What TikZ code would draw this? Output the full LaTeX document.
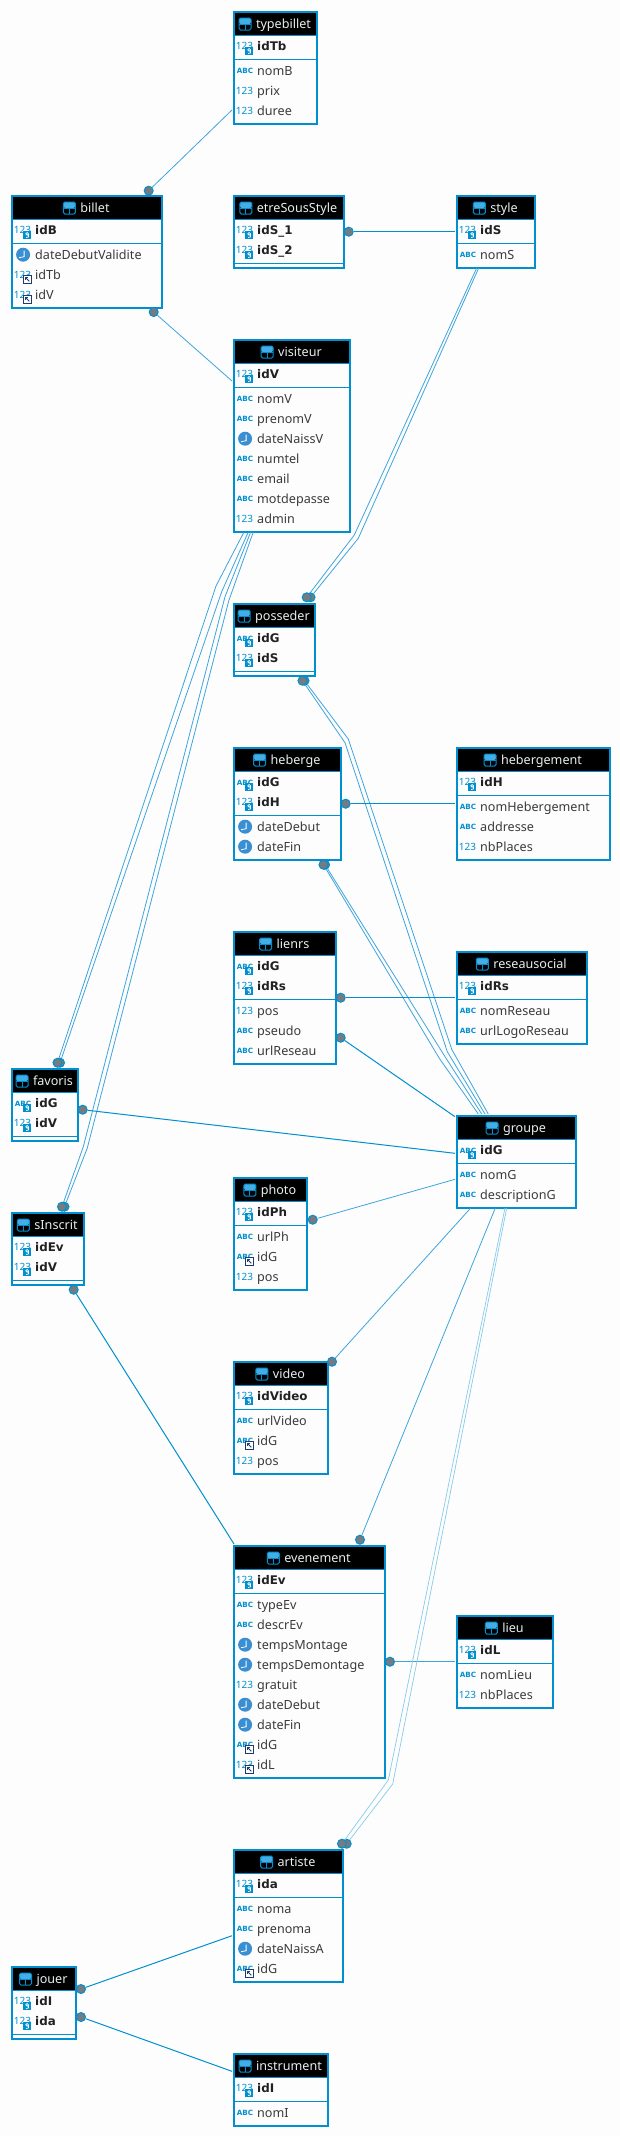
\documentclass[tikz,border=0pt]{standalone}
\usepackage{fontspec}
\setmainfont{Noto Sans}[BoldFont=DejaVu Sans Bold]
\definecolor{paper}{HTML}{FDFDFD}
\definecolor{tblblue}{HTML}{0090D0}
\definecolor{softblue}{HTML}{3DA5DC}
\definecolor{paleblue}{HTML}{86CBEA}
\definecolor{lightcell}{HTML}{45ADE6}
\definecolor{clockblue}{HTML}{3A8FD2}
\definecolor{fknavy}{HTML}{1F3A6E}
\definecolor{jointgray}{HTML}{757B80}
\definecolor{bodytext}{HTML}{3A3A3A}
\definecolor{keytext}{HTML}{222222}
\definecolor{headtext}{HTML}{E8EEEE}

\begin{document}
\begin{tikzpicture}[
  x=1pt, y=-1pt,
  every node/.style={inner sep=0pt},
  % tables: the argument is the depth of the rule under the key columns
  tbl/.style={rectangle, anchor=north west, draw=tblblue, line width=2pt, fill=paper,
    path picture={
      \fill[black] (path picture bounding box.north west) rectangle ([yshift=-23.3pt]path picture bounding box.north east);
      \draw[tblblue, line width=1pt] ([yshift=-23.8pt]path picture bounding box.north west) -- ([yshift=-23.8pt]path picture bounding box.north east);
      \draw[tblblue, line width=1pt] ([yshift=-#1pt]path picture bounding box.north west) -- ([yshift=-#1pt]path picture bounding box.north east);}},
  head/.style={text=headtext, font=\fontsize{12.6}{14}\selectfont, text height=8.6pt, text depth=0pt,
    label={[gridtag]left:{}}},
  % the little icons sit on the rows as labels
  gridtag/.style={rectangle, rounded corners=1.5pt, minimum width=12pt, minimum height=12pt, draw=tblblue, line width=1pt, xshift=-4.3pt,
    path picture={
      \fill[lightcell] (path picture bounding box.north west) rectangle (path picture bounding box.east);
      \draw[tblblue, line width=1pt] (path picture bounding box.west) -- (path picture bounding box.east);
      \draw[tblblue, line width=1pt] (path picture bounding box.center) -- (path picture bounding box.south);}},
  numtag/.style={text=tblblue, font=\fontsize{10}{10}\selectfont, text height=7.2pt, text depth=0pt, xshift=-3.7pt},
  abctag/.style={text=tblblue, font=\fontsize{7.2}{10}\selectfont\bfseries, text height=6pt, text depth=0pt, xshift=-3.7pt},
  clocktag/.style={circle, fill=clockblue, minimum size=14pt, xshift=-4.7pt,
    path picture={\draw[white, line width=0.8pt] (path picture bounding box.center) ++(1,-4) -- ++(0,6) -- ++(-5,1);}},
  keytag/.style={rectangle, fill=tblblue, minimum size=8pt, xshift=-3.7pt, yshift=-4.6pt,
    path picture={\draw[white, line width=0.7pt] (path picture bounding box.center) ++(0,-1) circle (1.4);
      \draw[white, line width=0.7pt] (path picture bounding box.center) ++(1.4,-1) -- ++(0,3) -- ++(-2.4,0.6);}},
  fktag/.style={rectangle, fill=white, draw=fknavy, line width=0.8pt, minimum size=7.2pt, xshift=-3.7pt, yshift=-4.6pt,
    path picture={\draw[fknavy, line width=0.8pt] (path picture bounding box.center) ++(2,2) -- ++(-3.4,-3.4);
      \draw[fknavy, line width=0.8pt] (path picture bounding box.center) ++(1,-2) -- ++(-2.6,0) -- ++(0,2.6);}},
  % rows of a table
  field/.style={anchor=west, text=bodytext, font=\fontsize{12.6}{14}\selectfont, text height=8.6pt, text depth=0pt},
  num/.style={field, label={[numtag]left:123}},
  abc/.style={field, label={[abctag]left:ABC}},
  clock/.style={field, label={[clocktag]left:{}}},
  numkey/.style={num, text=keytext, font=\fontsize{11.9}{14}\selectfont\bfseries, label={[keytag]left:{}}},
  abckey/.style={abc, text=keytext, font=\fontsize{11.9}{14}\selectfont\bfseries, label={[keytag]left:{}}},
  numfk/.style={num, label={[fktag]left:{}}},
  abcfk/.style={abc, label={[fktag]left:{}}},
  % connectors and their round ends
  joint/.style={circle, fill=jointgray, draw=tblblue, line width=1pt, minimum size=9pt},
  link/.style={draw=tblblue, line width=1pt},
  softlink/.style={draw=softblue, line width=0.8pt},
  palelink/.style={draw=paleblue, line width=0.7pt}]

  \fill[paper, use as bounding box] (0,0) rectangle (620,2136);

  % typebillet
  \node[tbl=47.3, minimum width=83pt, minimum height=112pt] (typebillet) at (233,11) {};
  \node[head] (typebilletHead) at (283.5,24) {typebillet};
  \node[numkey] (typebilletIdTb) at (257,46.3) {idTb};
  \node[abc] (typebilletNomB) at (257,70.7) {nomB};
  \node[num] (typebilletPrix) at (257,90.7) {prix};
  \node[num] (typebilletDuree) at (257,110.7) {duree};

  % billet
  \node[tbl=47.3, minimum width=150pt, minimum height=111.5pt] (billet) at (11,195) {};
  \node[head] (billetHead) at (95,208) {billet};
  \node[numkey] (billetIdB) at (35,230.3) {idB};
  \node[clock] (billetDate) at (35,254.7) {dateDebutValidite};
  \node[numfk] (billetIdTb) at (35,274.7) {idTb};
  \node[numfk] (billetIdV) at (35,294.7) {idV};

  % etreSousStyle
  \node[tbl=67.3, minimum width=110pt, minimum height=72pt] (etreSousStyle) at (233,195) {};
  \node[head] (etreSousStyleHead) at (297,208) {etreSousStyle};
  \node[numkey] (etreIdS1) at (257,230.3) {idS\_1};
  \node[numkey] (etreIdS2) at (257,250.3) {idS\_2};

  % style
  \node[tbl=47.3, minimum width=78pt, minimum height=72pt] (style) at (456,195) {};
  \node[head] (styleHead) at (504,208) {style};
  \node[numkey] (styleIdS) at (480,230.3) {idS};
  \node[abc] (styleNomS) at (480,254.7) {nomS};

  % visiteur
  \node[tbl=47.3, minimum width=116pt, minimum height=192pt] (visiteur) at (233,339) {};
  \node[head] (visiteurHead) at (300,352) {visiteur};
  \node[numkey] (visiteurIdV) at (257,374.3) {idV};
  \node[abc] (visiteurNomV) at (257,398.7) {nomV};
  \node[abc] (visiteurPrenomV) at (257,418.7) {prenomV};
  \node[clock] (visiteurDate) at (257,438.7) {dateNaissV};
  \node[abc] (visiteurNumtel) at (257,458.7) {numtel};
  \node[abc] (visiteurEmail) at (257,478.7) {email};
  \node[abc] (visiteurMotdepasse) at (257,498.7) {motdepasse};
  \node[num] (visiteurAdmin) at (257,518.7) {admin};

  % posseder
  \node[tbl=67.3, minimum width=81pt, minimum height=72pt] (posseder) at (233,603) {};
  \node[head] (possederHead) at (282.5,616) {posseder};
  \node[abckey] (possederIdG) at (257,638.3) {idG};
  \node[numkey] (possederIdS) at (257,658.3) {idS};

  % heberge
  \node[tbl=67.3, minimum width=107pt, minimum height=112pt] (heberge) at (233,747) {};
  \node[head] (hebergeHead) at (295.5,760) {heberge};
  \node[abckey] (hebergeIdG) at (257,782.3) {idG};
  \node[numkey] (hebergeIdH) at (257,802.3) {idH};
  \node[clock] (hebergeDebut) at (257,826.7) {dateDebut};
  \node[clock] (hebergeFin) at (257,846.7) {dateFin};

  % hebergement
  \node[tbl=47.3, minimum width=153pt, minimum height=112pt] (hebergement) at (456,747) {};
  \node[head] (hebergementHead) at (541.5,760) {hebergement};
  \node[numkey] (hebergementIdH) at (480,782.3) {idH};
  \node[abc] (hebergementNom) at (480,806.7) {nomHebergement};
  \node[abc] (hebergementAddresse) at (480,826.7) {addresse};
  \node[num] (hebergementPlaces) at (480,846.7) {nbPlaces};

  % lienrs
  \node[tbl=67.3, minimum width=102pt, minimum height=132pt] (lienrs) at (233,931) {};
  \node[head] (lienrsHead) at (293,944) {lienrs};
  \node[abckey] (lienrsIdG) at (257,966.3) {idG};
  \node[numkey] (lienrsIdRs) at (257,986.3) {idRs};
  \node[num] (lienrsPos) at (257,1010.7) {pos};
  \node[abc] (lienrsPseudo) at (257,1030.7) {pseudo};
  \node[abc] (lienrsUrl) at (257,1050.7) {urlReseau};

  % reseausocial
  \node[tbl=47.3, minimum width=130pt, minimum height=92pt] (reseausocial) at (456,951) {};
  \node[head] (reseausocialHead) at (530,964) {reseausocial};
  \node[numkey] (reseausocialIdRs) at (480,986.3) {idRs};
  \node[abc] (reseausocialNom) at (480,1010.7) {nomReseau};
  \node[abc] (reseausocialLogo) at (480,1030.7) {urlLogoReseau};

  % groupe
  \node[tbl=47.3, minimum width=119pt, minimum height=92pt] (groupe) at (456,1115) {};
  \node[head] (groupeHead) at (524.5,1128) {groupe};
  \node[abckey] (groupeIdG) at (480,1150.3) {idG};
  \node[abc] (groupeNomG) at (480,1174.7) {nomG};
  \node[abc] (groupeDescription) at (480,1194.7) {descriptionG};

  % favoris
  \node[tbl=67.3, minimum width=66pt, minimum height=72pt] (favoris) at (11,1068) {};
  \node[head] (favorisHead) at (53,1081) {favoris};
  \node[abckey] (favorisIdG) at (35,1103.3) {idG};
  \node[numkey] (favorisIdV) at (35,1123.3) {idV};

  % sInscrit
  \node[tbl=67.3, minimum width=72pt, minimum height=72pt] (sInscrit) at (11,1212) {};
  \node[head] (sInscritHead) at (56,1225) {sInscrit};
  \node[numkey] (sInscritIdEv) at (35,1247.3) {idEv};
  \node[numkey] (sInscritIdV) at (35,1267.3) {idV};

  % photo
  \node[tbl=47.3, minimum width=73pt, minimum height=112pt] (photo) at (233,1177) {};
  \node[head] (photoHead) at (278.5,1190) {photo};
  \node[numkey] (photoIdPh) at (257,1212.3) {idPh};
  \node[abc] (photoUrl) at (257,1236.7) {urlPh};
  \node[abcfk] (photoIdG) at (257,1256.7) {idG};
  \node[num] (photoPos) at (257,1276.7) {pos};

  % video
  \node[tbl=47.3, minimum width=94pt, minimum height=112pt] (video) at (233,1361) {};
  \node[head] (videoHead) at (289,1374) {video};
  \node[numkey] (videoIdVideo) at (257,1396.3) {idVideo};
  \node[abc] (videoUrl) at (257,1420.7) {urlVideo};
  \node[abcfk] (videoIdG) at (257,1440.7) {idG};
  \node[num] (videoPos) at (257,1460.7) {pos};

  % evenement
  \node[tbl=47.3, minimum width=151pt, minimum height=232pt] (evenement) at (233,1545) {};
  \node[head] (evenementHead) at (317.5,1558) {evenement};
  \node[numkey] (evenementIdEv) at (257,1580.3) {idEv};
  \node[abc] (evenementType) at (257,1604.7) {typeEv};
  \node[abc] (evenementDescr) at (257,1624.7) {descrEv};
  \node[clock] (evenementMontage) at (257,1644.7) {tempsMontage};
  \node[clock] (evenementDemontage) at (257,1664.7) {tempsDemontage};
  \node[num] (evenementGratuit) at (257,1684.7) {gratuit};
  \node[clock] (evenementDebut) at (257,1704.7) {dateDebut};
  \node[clock] (evenementFin) at (257,1724.7) {dateFin};
  \node[abcfk] (evenementIdG) at (257,1744.7) {idG};
  \node[numfk] (evenementIdL) at (257,1764.7) {idL};

  % lieu
  \node[tbl=47.3, minimum width=96pt, minimum height=92pt] (lieu) at (456,1615) {};
  \node[head] (lieuHead) at (513,1628) {lieu};
  \node[numkey] (lieuIdL) at (480,1650.3) {idL};
  \node[abc] (lieuNom) at (480,1674.7) {nomLieu};
  \node[num] (lieuPlaces) at (480,1694.7) {nbPlaces};

  % artiste
  \node[tbl=47.3, minimum width=109pt, minimum height=132pt] (artiste) at (233,1849) {};
  \node[head] (artisteHead) at (296.5,1862) {artiste};
  \node[numkey] (artisteIda) at (257,1884.3) {ida};
  \node[abc] (artisteNoma) at (257,1908.7) {noma};
  \node[abc] (artistePrenoma) at (257,1928.7) {prenoma};
  \node[clock] (artisteDate) at (257,1948.7) {dateNaissA};
  \node[abcfk] (artisteIdG) at (257,1968.7) {idG};

  % jouer
  \node[tbl=67.3, minimum width=64pt, minimum height=72pt] (jouer) at (11,1966) {};
  \node[head] (jouerHead) at (52,1979) {jouer};
  \node[numkey] (jouerIdI) at (35,2001.3) {idI};
  \node[numkey] (jouerIda) at (35,2021.3) {ida};

  % instrument
  \node[tbl=47.3, minimum width=94pt, minimum height=72pt] (instrument) at (233,2053) {};
  \node[head] (instrumentHead) at (289,2066) {instrument};
  \node[numkey] (instrumentIdI) at (257,2088.3) {idI};
  \node[abc] (instrumentNomI) at (257,2112.7) {nomI};

  % round ends
  \node[joint] (billetUp) at (148.7,190.7) {};
  \node[joint] (billetDown) at (153.7,312) {};
  \node[joint] (etreSide) at (348.7,231.7) {};
  \node[joint] (possUpB) at (310.5,597.3) {};
  \node[joint] (possUpA) at (306.7,597.3) {};
  \node[joint] (possDownB) at (304.5,680.7) {};
  \node[joint] (possDownA) at (302.5,680.7) {};
  \node[joint] (hebergeDownB) at (325,864.7) {};
  \node[joint] (hebergeDownA) at (323.5,864.7) {};
  \node[joint] (hebergeSide) at (345.7,803.7) {};
  \node[joint] (lienrsSideA) at (340.7,997.7) {};
  \node[joint] (lienrsSideB) at (340.7,1037.7) {};
  \node[joint] (favorisUpB) at (60,1062.7) {};
  \node[joint] (favorisUpA) at (57.5,1062.7) {};
  \node[joint] (favorisSide) at (82.7,1109.7) {};
  \node[joint] (sInscritUpB) at (64.5,1206.7) {};
  \node[joint] (sInscritUpA) at (62,1206.7) {};
  \node[joint] (sInscritDown) at (73.7,1289.7) {};
  \node[joint] (photoSide) at (312.7,1219.7) {};
  \node[joint] (videoUp) at (332,1361.7) {};
  \node[joint] (evenementUp) at (360,1539.7) {};
  \node[joint] (evenementSide) at (390,1661.7) {};
  \node[joint] (artisteUpB) at (346.7,1843.7) {};
  \node[joint] (artisteUpA) at (342,1843.7) {};
  \node[joint] (jouerSideA) at (81,1989) {};
  \node[joint] (jouerSideB) at (81,2017) {};

  % free ends on the tables
  \coordinate (typebilletIn) at (232,110);
  \coordinate (visiteurIn) at (232,381);
  \coordinate (styleIn) at (455,231.7);
  \coordinate (styleOutA) at (476.7,268);
  \coordinate (styleOutB) at (478.7,268);
  \coordinate (visiteurOutA) at (244,532);
  \coordinate (visiteurOutB) at (248.3,532);
  \coordinate (visiteurOutC) at (250.7,532);
  \coordinate (visiteurOutD) at (253.3,532);
  \coordinate (hebergementIn) at (455,803.7);
  \coordinate (reseausocialIn) at (455,997.7);
  \coordinate (groupeTopA) at (478.3,1114);
  \coordinate (groupeTopB) at (481.7,1114);
  \coordinate (groupeTopC) at (485,1114);
  \coordinate (groupeTopD) at (488.3,1114);
  \coordinate (groupeCorner) at (455,1116.7);
  \coordinate (groupeSideA) at (455,1153.3);
  \coordinate (groupeSideB) at (455,1179.3);
  \coordinate (groupeDownA) at (470.7,1208);
  \coordinate (groupeDownB) at (495.3,1208);
  \coordinate (groupeDownC) at (505,1208);
  \coordinate (groupeDownD) at (506.7,1208);
  \coordinate (evenementCorner) at (234,1544);
  \coordinate (lieuIn) at (455,1661.7);
  \coordinate (artisteIn) at (232,1935.7);
  \coordinate (instrumentIn) at (232,2071.3);

  % connectors
  \draw[softlink] (billetUp) -- (typebilletIn);
  \draw[softlink] (billetDown) -- (visiteurIn);
  \draw[link] (etreSide) -- (styleIn);
  \draw[softlink] (possUpA) -- (354.3,535) -- (styleOutA);
  \draw[softlink] (possUpB) -- (358.3,538.3) -- (styleOutB);
  \draw[softlink] (favorisUpA) -- (216,586) -- (visiteurOutA);
  \draw[softlink] (favorisUpB) -- (221.7,591.7) -- (visiteurOutB);
  \draw[softlink] (sInscritUpA) -- (83.3,1146.7) -- (225,596.7) -- (visiteurOutC);
  \draw[softlink] (sInscritUpB) -- (87.3,1148) -- (229,600) -- (visiteurOutD);
  \draw[softlink] (possDownA) -- (345,742.7) -- (447.3,1051.7) -- (groupeTopC);
  \draw[softlink] (possDownB) -- (348.3,739) -- (451.7,1049.3) -- (groupeTopD);
  \draw[softlink] (hebergeDownA) -- (439.3,1058.3) -- (groupeTopA);
  \draw[softlink] (hebergeDownB) -- (442.7,1053) -- (groupeTopB);
  \draw[link] (hebergeSide) -- (hebergementIn);
  \draw[link] (lienrsSideA) -- (reseausocialIn);
  \draw[link] (lienrsSideB) -- (groupeCorner);
  \draw[link] (favorisSide) -- (groupeSideA);
  \draw[softlink] (photoSide) -- (groupeSideB);
  \draw[softlink] (videoUp) -- (groupeDownA);
  \draw[softlink] (evenementUp) -- (groupeDownB);
  \draw[link] (sInscritDown) -- (evenementCorner);
  \draw[softlink] (evenementSide) -- (lieuIn);
  \draw[palelink] (artisteUpA) -- (388.3,1780) -- (groupeDownC);
  \draw[palelink] (artisteUpB) -- (392.7,1784) -- (groupeDownD);
  \draw[link] (jouerSideA) -- (artisteIn);
  \draw[link] (jouerSideB) -- (instrumentIn);
\end{tikzpicture}
\end{document}
